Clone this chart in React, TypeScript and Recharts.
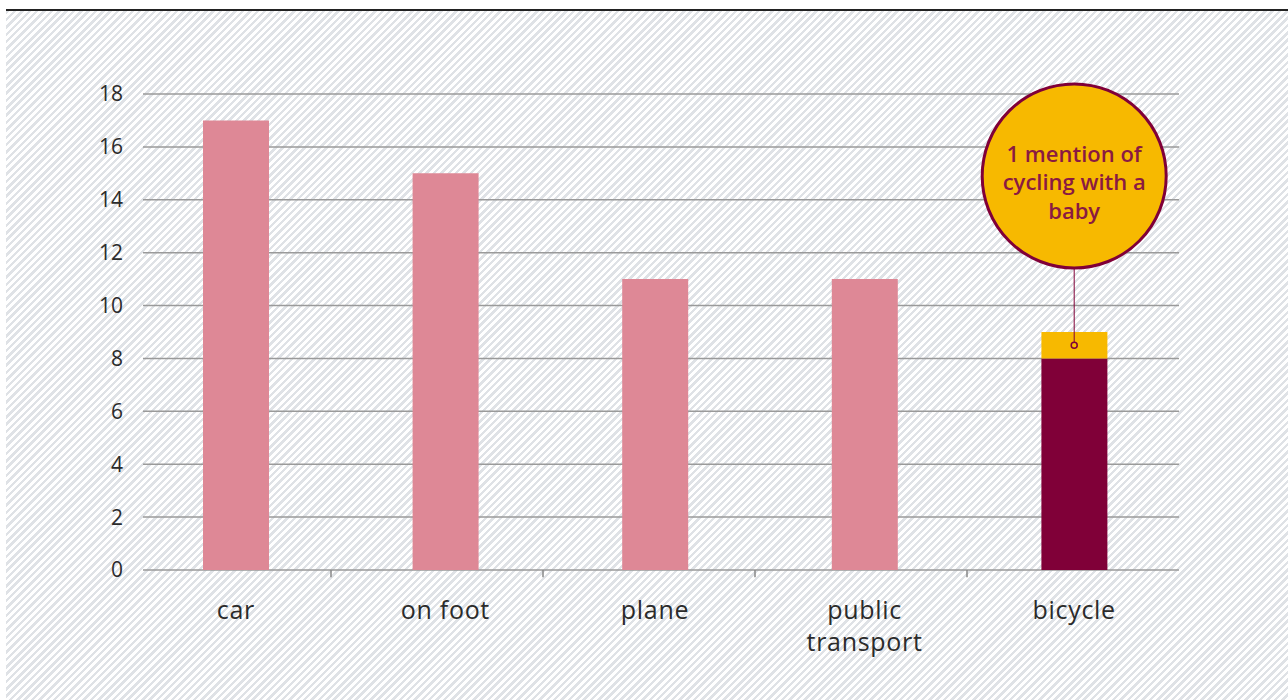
import React from 'react';
import {
  BarChart,
  Bar,
  XAxis,
  YAxis,
  CartesianGrid,
  Cell,
  ReferenceDot,
  ReferenceLine,
} from 'recharts';

const categories = ['car', 'on foot', 'plane', 'public transport', 'bicycle'];
const mentions = [17, 15, 11, 11, 8];
const babyMentions = [0, 0, 0, 0, 1];
const yTicks = [0, 2, 4, 6, 8, 10, 12, 14, 16, 18];
const calloutLines = ['1 mention of', 'cycling with a', 'baby'];

const PINK = '#DE8896';
const MAROON = '#800038';
const YELLOW = '#F7B900';
const CALLOUT_TEXT = '#8A1A42';
const FONT = '"Open Sans", "DejaVu Sans", sans-serif';

const data = categories.map((c, i) => ({
  category: c,
  mentions: mentions[i],
  baby: babyMentions[i],
}));

const CategoryTick = (props: any) => {
  const { x, y, payload } = props;
  const lines = payload.value === 'public transport' ? ['public', 'transport'] : [payload.value];
  return (
    <g>
      {lines.map((l: string, i: number) => (
        <text
          key={i}
          x={x}
          y={y + 49 + i * 32}
          textAnchor="middle"
          fill="#2b2b2b"
          fontSize={25}
          fontFamily={FONT}
          letterSpacing={0.7}
        >
          {l}
        </text>
      ))}
    </g>
  );
};

const Balloon = (props: any) => {
  const { cx, cy } = props;
  return (
    <g>
      <circle cx={cx} cy={cy} r={92} fill={YELLOW} stroke={MAROON} strokeWidth={3} />
      {calloutLines.map((l, i) => (
        <text
          key={i}
          x={cx}
          y={cy - 14 + i * 28.5}
          textAnchor="middle"
          fill={CALLOUT_TEXT}
          fontSize={22}
          fontWeight={600}
          fontFamily={FONT}
        >
          {l}
        </text>
      ))}
    </g>
  );
};

export default function App() {
  return (
    <div
      style={{
        position: 'absolute',
        left: 0,
        top: 0,
        width: 1288,
        height: 700,
        background: '#fff',
        overflow: 'hidden',
      }}
    >
      <div
        style={{
          position: 'absolute',
          left: 6,
          top: 11,
          right: 0,
          bottom: 0,
          background:
            'repeating-linear-gradient(135deg, #dfe2e6 0px, #dfe2e6 2.5px, #ffffff 2.5px, #ffffff 5.2px)',
        }}
      />
      <div
        style={{
          position: 'absolute',
          left: 6,
          top: 9,
          right: 0,
          height: 2,
          background: '#222',
        }}
      />
      <div style={{ position: 'absolute', left: 0, top: 0 }}>
        <BarChart
          width={1288}
          height={700}
          data={data}
          margin={{ top: 94, right: 109, left: 83, bottom: 30 }}
          barSize={66}
        >
          <CartesianGrid vertical={false} stroke="#9a9a9a" strokeWidth={1.5} />
          <XAxis
            dataKey="category"
            padding={{ left: -12, right: 0 }}
            height={100}
            axisLine={false}
            tickLine={false}
            tickSize={0}
            tickMargin={0}
            interval={0}
            tick={CategoryTick}
          />
          <XAxis
            xAxisId="slots"
            dataKey="category"
            padding={{ left: -24, right: 0 }}
            hide
          />
          <YAxis
            domain={[0, 18]}
            ticks={yTicks}
            width={60}
            axisLine={false}
            tickLine={false}
            tickSize={0}
            tickMargin={20}
            tick={{ fill: '#2b2b2b', fontSize: 21, fontFamily: FONT }}
          />
          <Bar dataKey="mentions" stackId="a" isAnimationActive={false}>
            {data.map((d, i) => (
              <Cell key={i} fill={d.category === 'bicycle' ? MAROON : PINK} />
            ))}
          </Bar>
          <Bar dataKey="baby" stackId="a" fill={YELLOW} isAnimationActive={false} />
          {categories.slice(1).map((c) => (
            <ReferenceLine
              key={c}
              xAxisId="slots"
              position="start"
              segment={[
                { x: c, y: 0 },
                { x: c, y: -0.27 },
              ]}
              ifOverflow="visible"
              stroke="#888"
              strokeWidth={1.5}
            />
          ))}
          <ReferenceLine
            segment={[
              { x: 'bicycle', y: 8.5 },
              { x: 'bicycle', y: 14.9 },
            ]}
            stroke={MAROON}
            strokeWidth={1}
          />
          <ReferenceDot x="bicycle" y={8.5} r={3} fill={YELLOW} stroke={MAROON} strokeWidth={1.5} />
          <ReferenceDot x="bicycle" y={14.9} r={92} shape={Balloon} />
        </BarChart>
      </div>
    </div>
  );
}
